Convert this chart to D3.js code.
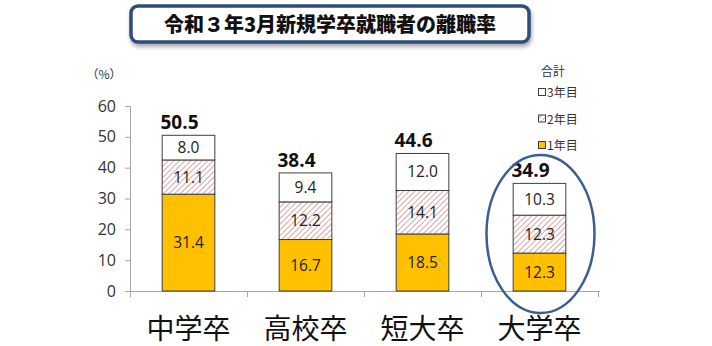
<!DOCTYPE html>
<html><head><meta charset="utf-8">
<script src="https://cdn.jsdelivr.net/npm/d3@7"></script>
<style>
html,body{margin:0;padding:0;background:#fff;}
svg{display:block;font-family:"Noto Sans CJK JP","Noto Sans",sans-serif;}
</style></head>
<body>
<svg id="chart" width="712" height="346"></svg>
<script>
// Job separation rate of new graduates (March 2021), by education level
const categories = ["中学卒", "高校卒", "短大卒", "大学卒"];
const year1 = [31.4, 16.7, 18.5, 12.3];
const year2 = [11.1, 12.2, 14.1, 12.3];
const year3 = [8.0, 9.4, 12.0, 10.3];
const totals = [50.5, 38.4, 44.6, 34.9];
const yTicks = [0, 10, 20, 30, 40, 50, 60];
const seriesNames = ["1年目", "2年目", "3年目"];
const titleText = "令和３年3月新規学卒就職者の離職率";

const svg = d3.select("#chart");
const defs = svg.append("defs");

// hatch for the second-year segment
const pat = defs.append("pattern").attr("id", "hatch")
  .attr("patternUnits", "userSpaceOnUse").attr("width", 4).attr("height", 4)
  .attr("patternTransform", "rotate(45)");
pat.append("rect").attr("width", 4).attr("height", 4).attr("fill", "#fff");
pat.append("line").attr("x1", 0).attr("y1", 0).attr("x2", 0).attr("y2", 4)
  .attr("stroke", "#d98b8b").attr("stroke-width", 1.6);

const shadow = defs.append("filter").attr("id", "shadow")
  .attr("x", "-10%").attr("y", "-30%").attr("width", "120%").attr("height", "170%");
shadow.append("feDropShadow").attr("dx", 1).attr("dy", 3).attr("stdDeviation", 2)
  .attr("flood-color", "#000").attr("flood-opacity", 0.35);

// title box
svg.append("rect").attr("x", 131).attr("y", 6).attr("width", 398).attr("height", 36)
  .attr("rx", 7).attr("fill", "#fff").attr("stroke", "#2e4d7b").attr("stroke-width", 3.5)
  .attr("filter", "url(#shadow)");
svg.append("text").attr("x", 330).attr("y", 32).attr("text-anchor", "middle")
  .attr("font-size", 20).attr("font-weight", "900").attr("fill", "#111").text(titleText);

const x = d3.scaleBand().domain(categories).range([130, 598]).paddingInner(0.55).paddingOuter(0.275);
const y = d3.scaleLinear().domain([0, 60]).range([291, 106]);

// y axis
const yAxis = svg.append("g").attr("transform", "translate(130,0)")
  .call(d3.axisLeft(y).tickValues(yTicks).tickSize(5).tickPadding(9).tickFormat(d3.format("d")));
yAxis.select(".domain").attr("stroke", "#a6a6a6").attr("d", "M-5,106.5H0.5V296");
yAxis.selectAll(".tick line").attr("stroke", "#a6a6a6");
yAxis.selectAll(".tick text").attr("font-size", 16).attr("fill", "#333")
  .attr("font-family", "Open Sans, Noto Sans, sans-serif");
svg.append("text").attr("x", 104).attr("y", 79).attr("text-anchor", "middle")
  .attr("font-size", 12).attr("fill", "#333").text("（%）");

// x axis with boundary ticks
svg.append("line").attr("x1", 125).attr("x2", 600).attr("y1", 291.5).attr("y2", 291.5)
  .attr("stroke", "#a6a6a6").attr("stroke-width", 1.2);
const bounds = categories.map(c => x(c) - x.step() * x.paddingInner() / 2).concat([598]);
svg.selectAll(".xt").data(bounds).join("line")
  .attr("x1", d => Math.round(d) + 0.5).attr("x2", d => Math.round(d) + 0.5)
  .attr("y1", 291).attr("y2", 297).attr("stroke", "#a6a6a6");

svg.selectAll(".cat").data(categories).join("text")
  .attr("x", d => x(d) + x.bandwidth() / 2).attr("y", 339).attr("text-anchor", "middle")
  .attr("font-size", 28).attr("fill", "#111").text(d => d);

// stacked bars
const rows = categories.map((c, i) => ({ cat: c, "1年目": year1[i], "2年目": year2[i], "3年目": year3[i] }));
const stack = d3.stack().keys(seriesNames)(rows);
const fills = { "1年目": "#ffc000", "2年目": "url(#hatch)", "3年目": "#fff" };

stack.forEach(s => {
  const g = svg.append("g");
  g.selectAll("rect").data(s).join("rect")
    .attr("x", d => x(d.data.cat)).attr("width", x.bandwidth())
    .attr("y", d => y(d[1])).attr("height", d => y(d[0]) - y(d[1]))
    .attr("fill", fills[s.key]).attr("stroke", "#3f3f3f").attr("stroke-width", 1);
  g.selectAll("text").data(s).join("text")
    .attr("x", d => x(d.data.cat) + x.bandwidth() / 2)
    .attr("y", d => (y(d[0]) + y(d[1])) / 2 + 5.5)
    .attr("text-anchor", "middle").attr("font-size", 15.5).attr("fill", "#222")
    .attr("font-family", "Open Sans, Noto Sans, sans-serif")
    .text(d => (d[1] - d[0]).toFixed(1));
});

// totals above each stack
svg.selectAll(".tot").data(categories).join("text")
  .attr("x", d => x(d) + x.bandwidth() / 2 - 9)
  .attr("y", (d, i) => y(year1[i] + year2[i] + year3[i]) - 6)
  .attr("text-anchor", "middle").attr("font-size", 19).attr("font-weight", "bold")
  .attr("fill", "#111").attr("font-family", "Open Sans, Noto Sans, sans-serif")
  .text((d, i) => totals[i].toFixed(1));

// legend
const lg = svg.append("g").attr("font-size", 12).attr("fill", "#333");
lg.append("text").attr("x", 553).attr("y", 76).attr("text-anchor", "middle").text("合計");
const legendItems = ["3年目", "2年目", "1年目"];
legendItems.forEach((k, i) => {
  const yy = 93 + i * 26.5;
  lg.append("rect").attr("x", 538.5).attr("y", yy - 4.5).attr("width", 7).attr("height", 7)
    .attr("fill", fills[k]).attr("stroke", "#3f3f3f").attr("stroke-width", 1);
  lg.append("text").attr("x", 547).attr("y", yy + 4).text(k);
});

// highlight ring around the university bar
svg.append("ellipse").attr("cx", x("大学卒") + x.bandwidth() / 2 + 1).attr("cy", 234)
  .attr("rx", 54).attr("ry", 79).attr("fill", "none")
  .attr("stroke", "#3b5d8f").attr("stroke-width", 2.5);
</script>
</body></html>
